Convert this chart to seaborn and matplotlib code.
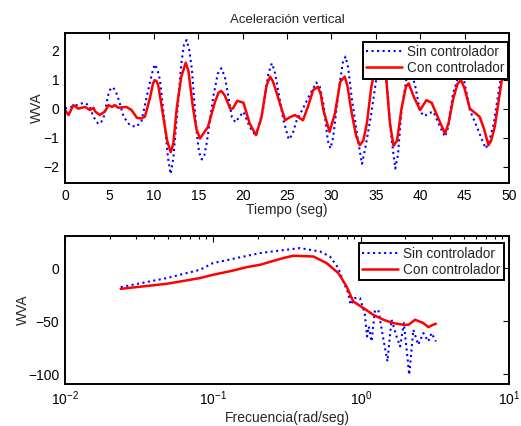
import numpy as np
import seaborn as sns
import matplotlib
matplotlib.use("Agg")
import matplotlib.pyplot as plt
from matplotlib.ticker import LogLocator

# tiempo (seg) / aceleracion vertical, sin controlador
t_sin = [0, 0.6, 1.3, 2.1, 2.7, 3.2, 3.75, 4.1, 4.4, 4.9, 5.15, 5.4, 5.7, 6.0, 6.6, 7.3, 8.0,
         8.6, 9.2, 9.8, 10.1, 10.4, 10.7, 11.3, 11.6, 11.9, 12.2, 12.6, 13.1, 13.4, 13.7, 14.0,
         14.3, 14.8, 15.1, 15.4, 15.7, 15.95, 16.7, 17.2, 17.6, 18.0, 18.4, 18.8, 19.2, 19.6,
         20.1, 20.8, 21.5, 22.3, 22.9, 23.3, 23.6, 24.0, 24.6, 25.2, 25.6, 26.1, 26.8, 27.5,
         28.3, 28.7, 29.1, 29.6, 29.9, 30.2, 30.8, 31.3, 31.6, 31.9, 32.3, 33.0, 33.45, 33.8,
         34.5, 35.1, 35.6, 36.2, 36.8, 37.2, 37.5, 37.9, 38.5, 39.0, 39.5, 40.0, 40.5, 41.0,
         41.5, 42.2, 42.8, 43.2, 43.7, 44.5, 45.0, 45.6, 46.4, 47.0, 47.4, 47.8, 48.3, 49.0,
         49.6, 50.0]
y_sin = [0, 0.05, 0.12, 0.2, 0.12, -0.28, -0.53, -0.45, -0.25, 0.52, 0.7, 0.73, 0.6, 0.35,
         -0.28, -0.57, -0.63, -0.45, 0.41, 1.21, 1.52, 1.35, 0.98, -0.74, -1.7, -2.25, -1.7,
         -0.28, 1.56, 2.2, 2.36, 2.0, 1.33, -0.74, -1.5, -1.75, -1.6, -1.2, 0.41, 1.2, 1.39,
         1.1, 0.41, -0.3, -0.47, -0.3, -0.11, -0.63, -0.95, -0.05, 1.2, 1.56, 1.3, 0.64, -0.4,
         -1.06, -0.9, -0.4, 0.0, 0.44, 0.9, 0.75, 0.18, -1.1, -1.37, -1.0, 0.58, 1.6, 1.79,
         1.4, 0.35, -1.09, -1.9, -1.4, -0.17, 1.1, 2.35, 0.9, -1.09, -2.06, -1.6, -0.05, 1.1,
         1.3, 0.7, -0.11, -0.26, -0.15, -0.11, -0.6, -0.97, -0.6, 0.52, 1.3, 0.9, -0.05, -0.63,
         -1.1, -1.37, -1.1, -0.5, 0.9, 2.2, 2.05]

# tiempo (seg) / aceleracion vertical, con controlador
t_con = [0, 0.4, 0.93, 1.5, 2.25, 2.8, 3.2, 3.4, 3.9, 4.5, 4.9, 5.3, 5.6, 6.0, 6.9, 7.5, 8.1,
         8.6, 9.0, 9.6, 9.9, 10.1, 10.3, 10.5, 11.1, 11.5, 11.9, 12.2, 12.6, 13.1, 13.6, 13.9,
         14.4, 14.8, 15.2, 15.6, 16.1, 16.9, 17.3, 17.6, 18.0, 18.6, 18.9, 19.4, 20.1, 20.8,
         21.5, 22.1, 22.7, 23.1, 23.4, 23.8, 24.2, 24.8, 25.3, 25.9, 26.8, 27.4, 27.95, 28.5,
         28.8, 29.1, 29.8, 30.4, 31.0, 31.5, 31.8, 32.3, 32.8, 33.2, 33.6, 34.0, 34.5, 35.0,
         35.4, 35.8, 36.2, 36.6, 37.0, 37.4, 37.9, 38.4, 38.7, 39.3, 40.0, 40.7, 41.3, 42.0,
         42.8, 43.2, 43.7, 44.2, 44.6, 45.0, 45.6, 46.7, 47.2, 47.7, 48.0, 48.4, 49.2, 49.55,
         50.0]
y_con = [-0.05, -0.22, 0.12, 0.0, 0.06, -0.05, 0.03, -0.1, -0.22, -0.1, 0.12, 0.06, 0.12, 0.03,
         0.06, -0.05, -0.32, -0.34, -0.28, 0.41, 0.85, 0.98, 0.95, 0.81, -0.34, -1.1, -1.5,
         -1.2, 0.06, 1.1, 1.58, 1.3, 0.06, -0.7, -1.03, -0.85, -0.63, 0.24, 0.55, 0.61, 0.45,
         0.0, 0.0, 0.27, 0.2, -0.51, -0.91, -0.34, 0.8, 1.1, 0.95, 0.58, 0.18, -0.4, -0.3,
         -0.22, -0.4, 0.1, 0.64, 0.75, 0.5, -0.05, -0.8, -0.17, 0.92, 1.1, 0.8, -0.17, -0.95,
         -1.26, -1.1, -0.51, 0.75, 1.45, 1.6, 1.45, 0.98, -0.51, -1.28, -1.1, 0.0, 0.75, 0.87,
         0.4, -0.05, 0.29, 0.2, -0.3, -0.86, -0.5, 0.3, 0.85, 0.98, 0.7, 0.0, -0.28, -0.7,
         -1.26, -1.1, -0.63, 0.98, 1.73, 0.98]

# frecuencia (rad/seg) / WVA
f_sin = [0.0238, 0.0487, 0.0817, 0.1, 0.208, 0.284, 0.387, 0.528, 0.618, 0.703, 0.759, 0.82,
         0.851, 0.91, 0.984, 1.06, 1.10, 1.13, 1.18, 1.24, 1.31, 1.42, 1.51, 1.61, 1.74, 1.84,
         1.95, 2.12, 2.26, 2.44, 2.64, 2.85, 3.0, 3.21]
w_sin = [-17.9, -9.4, -1.6, 4.7, 14.1, 16.5, 18.8, 15.6, 10.9, 0.0, -12.6, -23.5, -34.5, -28.2,
         -28.2, -42.3, -64.3, -54.9, -69.0, -40.8, -39.2, -67.4, -87.8, -48.6, -64.3, -73.7,
         -51.7, -100.3, -58.0, -72.1, -61.1, -69.0, -61.1, -69.0]
f_con = [0.0238, 0.0487, 0.0817, 0.1, 0.137, 0.169, 0.208, 0.298, 0.349, 0.477, 0.586, 0.703,
         0.80, 0.887, 1.04, 1.21, 1.42, 1.65, 1.93, 2.1, 2.32, 2.64, 2.85, 3.0, 3.21]
w_con = [-19.5, -14.8, -9.4, -6.3, -2.3, 0.9, 3.1, 9.4, 11.6, 10.9, 4.7, -4.7, -17.3, -31.4,
         -37.6, -43.9, -48.6, -51.7, -53.3, -53.3, -48.6, -51.7, -55.5, -54.0, -52.3]

sns.set_style("white")
plt.rcParams["font.family"] = ["Liberation Sans", "DejaVu Sans"]
plt.rcParams["font.size"] = 10

fig = plt.figure(figsize=(5.21, 4.26), dpi=100)
ax1 = fig.add_axes([0.1248, 0.5704, 0.852, 0.352])
ax2 = fig.add_axes([0.1248, 0.0986, 0.852, 0.347])

blue = "#0000ff"
red = "#ff0000"

sns.lineplot(x=t_sin, y=y_sin, ax=ax1, color=blue, linestyle=":", linewidth=1.5,
             sort=False, label="Sin controlador")
sns.lineplot(x=t_con, y=y_con, ax=ax1, color=red, linewidth=1.8,
             sort=False, label="Con controlador")
ax1.set_xlim(0, 50)
ax1.set_ylim(-2.56, 2.6)
ax1.set_xticks(range(0, 51, 5))
ax1.set_yticks([-2, -1, 0, 1, 2])
ax1.set_title("Aceleración vertical", fontsize=9.5, pad=7)
ax1.set_xlabel("Tiempo (seg)", labelpad=0)
ax1.set_ylabel("WVA", labelpad=0)

sns.lineplot(x=f_sin, y=w_sin, ax=ax2, color=blue, linestyle=":", linewidth=1.5,
             sort=False, label="Sin controlador")
sns.lineplot(x=f_con, y=w_con, ax=ax2, color=red, linewidth=1.8,
             sort=False, label="Con controlador")
ax2.set_xscale("log")
ax2.set_xlim(0.01, 10)
ax2.set_ylim(-109, 30)
ax2.set_yticks([-100, -50, 0])
ax2.xaxis.set_minor_locator(LogLocator(base=10, subs=np.arange(2, 10)))
ax2.set_xlabel("Frecuencia(rad/seg)", labelpad=2)
ax2.set_ylabel("WVA", labelpad=-1)

anchors = {ax1: (0.998, 0.942), ax2: (0.989, 0.951)}
for ax in (ax1, ax2):
    for s in ax.spines.values():
        s.set_linewidth(1.4)
        s.set_color("black")
    ax.tick_params(which="both", direction="in", top=True, right=True,
                   labelsize=10, colors="black", pad=4)
    ax.tick_params(which="major", length=4, width=0.8)
    ax.tick_params(which="minor", length=2.5, width=0.8)
    leg = ax.legend(loc="upper right", bbox_to_anchor=anchors[ax], fontsize=9.8,
                    frameon=True, fancybox=False, borderpad=0.25, handlelength=2.6,
                    handletextpad=0.4, labelspacing=0.15, borderaxespad=0)
    leg.get_frame().set_edgecolor("black")
    leg.get_frame().set_linewidth(1.4)
    leg.get_frame().set_alpha(1)

fig.savefig("out.png", dpi=100)
